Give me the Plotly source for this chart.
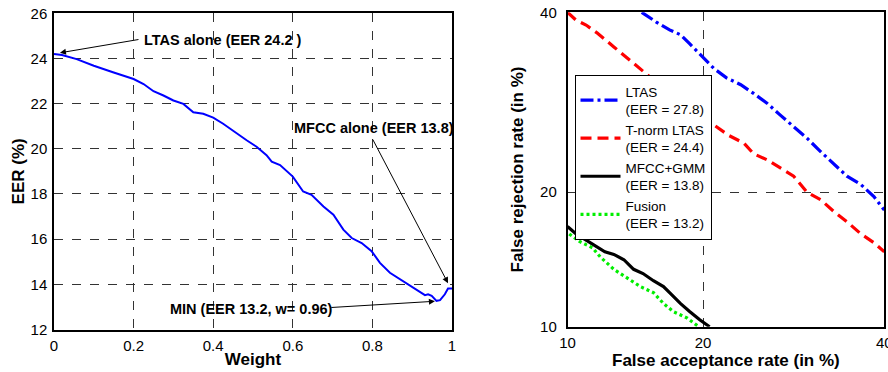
from statistics import NormalDist
import plotly.graph_objects as go

# ---------------- data ----------------
weight = [0.0, 0.02, 0.057, 0.1, 0.15, 0.2, 0.225, 0.25, 0.275, 0.3, 0.325, 0.35, 0.375,
          0.4, 0.425, 0.459, 0.484, 0.509, 0.534, 0.547, 0.568, 0.6, 0.626, 0.647, 0.677,
          0.702, 0.727, 0.748, 0.773, 0.798, 0.819, 0.844, 0.869, 0.894, 0.92, 0.932,
          0.94, 0.949, 0.961, 0.97, 0.982, 0.99, 1.0]
eer = [24.2, 24.15, 23.97, 23.68, 23.38, 23.09, 22.87, 22.55, 22.36, 22.14, 21.99, 21.62,
       21.55, 21.38, 21.11, 20.67, 20.38, 20.09, 19.72, 19.43, 19.28, 18.77, 18.11, 17.96,
       17.45, 17.08, 16.42, 16.05, 15.83, 15.47, 14.95, 14.51, 14.22, 13.93, 13.63, 13.52,
       13.56, 13.49, 13.27, 13.3, 13.56, 13.81, 13.81]

ltas_fa = [14.9, 16.0, 17.1, 18.0, 18.8, 20.0, 21.0, 22.2, 23.6, 24.9, 26.3, 27.7, 29.2,
           30.7, 32.3, 33.8, 35.4, 37.1, 38.7, 40.0]
ltas_fr = [40.0, 38.8, 37.8, 37.2, 36.1, 34.5, 33.1, 32.0, 31.2, 30.2, 29.1, 27.8, 26.5,
           25.3, 23.9, 22.7, 21.5, 20.7, 19.6, 18.4]

tnorm_fa = [10.0, 10.5, 11.1, 11.8, 12.9, 14.0, 15.3, 16.6, 18.0, 19.4, 21.0, 22.4, 23.9,
            24.9, 26.3, 27.7, 29.2, 30.7, 32.3, 33.8, 35.4, 37.1, 38.7, 40.0]
tnorm_fr = [40.0, 39.0, 38.4, 37.4, 35.7, 34.1, 32.3, 30.8, 29.5, 28.2, 26.7, 25.6, 24.8,
            23.7, 23.1, 22.3, 21.5, 20.0, 19.3, 18.3, 17.4, 16.4, 15.7, 15.0]

mfcc_fa = [10.0, 10.5, 11.1, 11.8, 12.3, 12.9, 13.6, 14.3, 15.0, 15.8, 16.6, 17.1, 18.0,
           18.8, 19.7, 20.6]
mfcc_fr = [17.0, 16.4, 15.9, 15.4, 15.0, 14.8, 14.4, 13.7, 13.4, 12.9, 12.5, 12.1, 11.4,
           10.9, 10.4, 10.0]

fusion_fa = [10.1, 10.7, 11.5, 12.0, 12.9, 13.8, 14.8, 15.8, 16.6, 17.4, 18.6, 19.6]
fusion_fr = [16.4, 15.8, 15.3, 14.6, 13.7, 13.1, 12.5, 12.1, 11.4, 10.9, 10.5, 10.0]

det_ticks = [10, 20, 40]
left_xticks = [0, 0.2, 0.4, 0.6, 0.8, 1]
left_xticklabels = ["0", "0.2", "0.4", "0.6", "0.8", "1"]
left_yticks = [12, 14, 16, 18, 20, 22, 24, 26]

nd = NormalDist()
def probit(pcts):
    return [nd.inv_cdf(p / 100.0) for p in pcts]

FONT = "Liberation Sans, Arial, sans-serif"
W, H = 888, 372

fig = go.Figure()

# left plot
fig.add_trace(go.Scatter(x=weight, y=eer, mode="lines",
                         line=dict(color="#0000ff", width=2),
                         showlegend=False, xaxis="x", yaxis="y"))

# right plot (DET curves on normal-deviate scale)
fig.add_trace(go.Scatter(x=probit(ltas_fa), y=probit(ltas_fr), mode="lines",
                         name="LTAS<br>(EER = 27.8)",
                         line=dict(color="#0000ff", width=3.2, dash="13px,4px,3px,4px"),
                         xaxis="x2", yaxis="y2"))
fig.add_trace(go.Scatter(x=probit(tnorm_fa), y=probit(tnorm_fr), mode="lines",
                         name="T-norm LTAS<br>(EER = 24.4)",
                         line=dict(color="#ff0000", width=3.2, dash="11px,6px"),
                         xaxis="x2", yaxis="y2"))
fig.add_trace(go.Scatter(x=probit(mfcc_fa), y=probit(mfcc_fr), mode="lines",
                         name="MFCC+GMM<br>(EER = 13.8)",
                         line=dict(color="#000000", width=3.2),
                         xaxis="x2", yaxis="y2"))
fig.add_trace(go.Scatter(x=probit(fusion_fa), y=probit(fusion_fr), mode="lines",
                         name="Fusion<br>(EER = 13.2)",
                         line=dict(color="#00ee00", width=3.2, dash="3px,3px"),
                         xaxis="x2", yaxis="y2"))

axis_common = dict(showline=True, linecolor="black", linewidth=1.5, mirror=True,
                   ticks="", showgrid=True, gridcolor="#333333", griddash="dash",
                   gridwidth=1, zeroline=False, automargin=False,
                   ticklabeloverflow="allow",
                   tickfont=dict(family=FONT, size=15, color="black"))

TITLE_SIZE = 17

fig.update_layout(
    width=W, height=H,
    margin=dict(l=0, r=0, t=0, b=0, pad=0, autoexpand=False),
    paper_bgcolor="white", plot_bgcolor="white",
    font=dict(family=FONT, color="black"),
    xaxis=dict(domain=[54 / W, 452 / W], range=[0, 1], tickvals=left_xticks,
               ticktext=left_xticklabels, anchor="y", ticklabelstandoff=2,
               title=dict(text="<b>Weight</b>", font=dict(size=TITLE_SIZE), standoff=0),
               **axis_common),
    yaxis=dict(domain=[1 - 329.5 / H, 1 - 13.3 / H], range=[12, 26], tickvals=left_yticks,
               anchor="x", ticklabelstandoff=2,
               title=dict(text="<b>EER (%)</b>", font=dict(size=TITLE_SIZE), standoff=2),
               **axis_common),
    xaxis2=dict(domain=[567.5 / W, 884.3 / W], range=probit([10, 40]),
                tickvals=probit(det_ticks), ticktext=[str(t) for t in det_ticks],
                anchor="y2", ticklabelstandoff=2,
                title=dict(text="<b>False acceptance rate (in %)</b>",
                           font=dict(size=TITLE_SIZE), standoff=0),
                **axis_common),
    yaxis2=dict(domain=[1 - 326.7 / H, 1 - 12.3 / H], range=probit([10, 40]),
                tickvals=probit(det_ticks), ticktext=[str(t) for t in det_ticks],
                anchor="x2", ticklabelstandoff=6,
                title=dict(text="<b>False rejection rate (in %)</b>",
                           font=dict(size=TITLE_SIZE), standoff=12),
                **axis_common),
    legend=dict(x=574.5 / W, y=1 - 75 / H, xanchor="left", yanchor="top",
                bgcolor="white", bordercolor="black", borderwidth=1,
                font=dict(family=FONT, size=13.5, color="black"),
                tracegroupgap=0, itemwidth=40),
)

ann_font = dict(family=FONT, size=14.5, color="black")
texts = [
    ("<b>LTAS alone (EER 24.2 )</b>", 0.22, 24.82),
    ("<b>MFCC alone (EER 13.8)</b>", 0.597, 20.93),
    ("<b>MIN (EER 13.2, w= 0.96)</b>", 0.286, 12.93),
]
for t, x, y in texts:
    fig.add_annotation(text=t, x=x, y=y, xref="x", yref="y", showarrow=False,
                       xanchor="left", yanchor="middle", font=ann_font)

arrows = [
    (0.015, 24.25, 0.216, 24.85),
    (0.99, 14.05, 0.799, 20.48),
    (0.957, 13.25, 0.693, 12.97),
]
for hx, hy, tx, ty in arrows:
    fig.add_annotation(text="", x=hx, y=hy, ax=tx, ay=ty, xref="x", yref="y",
                       axref="x", ayref="y", showarrow=True, arrowhead=2,
                       arrowsize=1.2, arrowwidth=1, arrowcolor="black", standoff=0)

fig.write_html("out.html", config={"displayModeBar": False},
               post_script="document.body.style.margin='0px';")
